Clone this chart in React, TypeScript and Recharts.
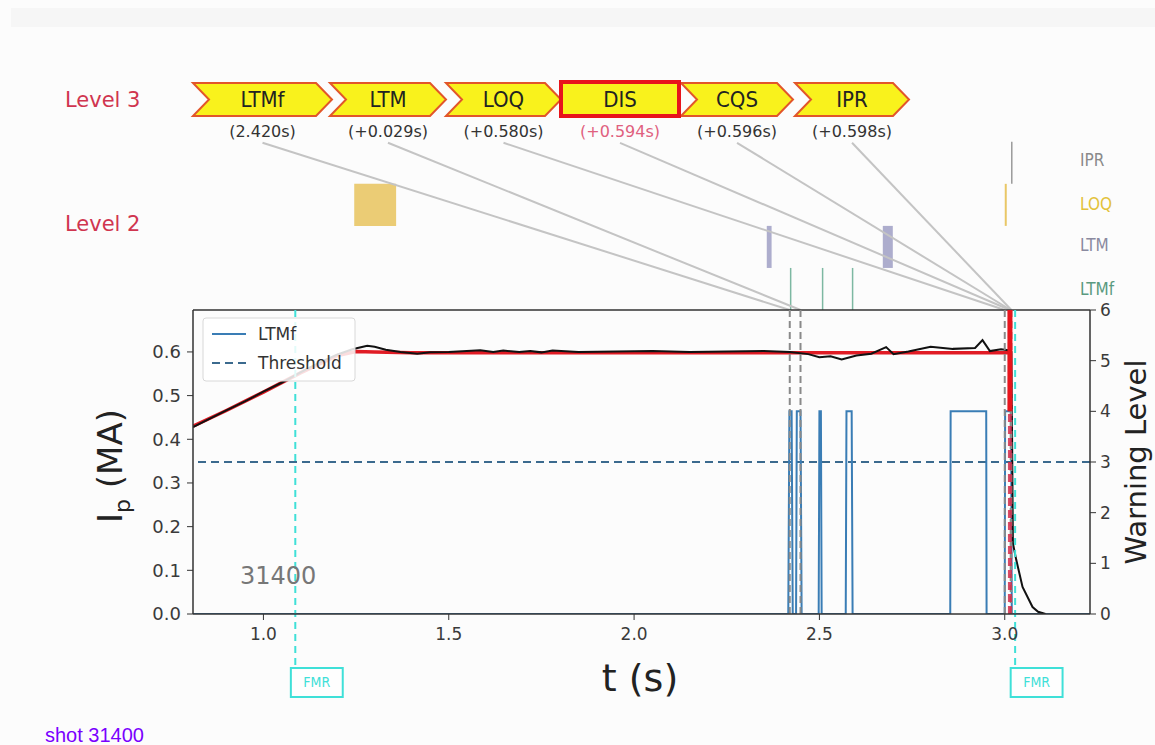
import React from 'react';
import { ComposedChart, Line, XAxis, YAxis, ReferenceLine, ReferenceArea } from 'recharts';

// measured plasma current (MA)
const IP_T = [0.81, 0.85, 0.9, 0.95, 1.0, 1.05, 1.1, 1.15, 1.2, 1.24, 1.26, 1.28, 1.3, 1.33, 1.37, 1.415, 1.45, 1.5, 1.585, 1.62, 1.647, 1.69, 1.72, 1.75, 1.78, 1.85, 1.95, 2.05, 2.15, 2.25, 2.35, 2.42, 2.47, 2.5, 2.53, 2.56, 2.6, 2.64, 2.68, 2.7, 2.74, 2.8, 2.86, 2.92, 2.94, 2.96, 2.99, 3.01, 3.018, 3.022, 3.031, 3.048, 3.075, 3.09, 3.11];
const IP_V = [0.428, 0.445, 0.466, 0.487, 0.509, 0.53, 0.553, 0.575, 0.594, 0.606, 0.61, 0.614, 0.612, 0.605, 0.6, 0.596, 0.599, 0.6, 0.604, 0.6, 0.603, 0.6, 0.602, 0.599, 0.603, 0.6, 0.601, 0.602, 0.6, 0.601, 0.602, 0.6, 0.595, 0.588, 0.59, 0.583, 0.592, 0.596, 0.611, 0.595, 0.601, 0.612, 0.607, 0.609, 0.627, 0.602, 0.606, 0.604, 0.6, 0.162, 0.124, 0.062, 0.016, 0.005, 0];

// reference / fitted current (MA)
const FIT_T = [0.81, 0.9, 1.0, 1.1, 1.2, 1.25, 1.3, 1.4, 1.8, 2.2, 2.6, 3.0, 3.016];
const FIT_V = [0.43, 0.466, 0.508, 0.552, 0.592, 0.601, 0.6, 0.598, 0.598, 0.598, 0.598, 0.598, 0.598];

// LTMf warning level
const WARN_T = [0.81, 2.416, 2.419, 2.425, 2.428, 2.437, 2.439, 2.449, 2.452, 2.498, 2.5, 2.504, 2.506, 2.571, 2.573, 2.587, 2.5895, 2.853, 2.854, 2.95, 2.951, 3.0, 3.001, 3.017, 3.019, 3.23];
const WARN_V = [0, 0, 4, 4, 0, 0, 4, 4, 0, 0, 4, 4, 0, 0, 4, 4, 0, 0, 4, 4, 0, 0, 4, 4, 0, 0];
const THRESHOLD = 3;

const X_TICKS = [1.0, 1.5, 2.0, 2.5, 3.0];
const IP_TICKS = [0, 0.1, 0.2, 0.3, 0.4, 0.5, 0.6];
const WARN_TICKS = [0, 1, 2, 3, 4, 5, 6];

// level 3 sequence
const LEVEL3_NAMES = ['LTMf', 'LTM', 'LOQ', 'DIS', 'CQS', 'IPR'];
const LEVEL3_T = [2.42, 2.449, 3.0, 3.014, 3.016, 3.018];
const LEVEL3_ANCHOR_T = [0.9975, 1.336, 1.6477, 1.962, 2.2777, 2.588];

// level 2 events
const LEVEL2_ROWS = ['LTMf', 'LTM', 'LOQ', 'IPR'];
const LOQ_SPANS = [[1.245, 1.358]];
const LTM_SPANS = [[2.358, 2.371], [2.671, 2.698]];
const LTMF_MARKS = [2.4224, 2.5086, 2.5895];
const LOQ_MARKS = [3.0027];
const IPR_MARKS = [3.019];

const FMR_T = [1.086, 3.028];
const DIS_STEP = [4, 6];

const ipData = IP_T.map((t, i) => ({ t, ip: IP_V[i] }));
const fitData = FIT_T.map((t, i) => ({ t, fit: FIT_V[i] }));
const warnData = WARN_T.map((t, i) => ({ t, w: WARN_V[i] }));

const ROW_H = 0.83;
const rowLo = (name: string) => 6 + LEVEL2_ROWS.indexOf(name) * ROW_H;
const rowHi = (name: string) => rowLo(name) + ROW_H;

const FONT = 'DejaVu Sans, sans-serif';
const COND = 'DejaVu Sans Condensed, DejaVu Sans, sans-serif';
const CYAN = '#3fe0d8';

const chev = (L: number, R: number, d = 16, top = 83, bot = 116) => {
  const mid = (top + bot) / 2;
  return `${L},${top} ${R},${top} ${R + d},${mid} ${R},${bot} ${L},${bot} ${L + d},${mid}`;
};
const ARROWS = [[193, 316], [330, 430], [446, 545], null, [681, 777], [795, 893]];
const LABEL_X = [262.5, 388, 503.5, 620, 737, 852];

export default function App() {
  return (
    <div style={{ position: 'absolute', left: 0, top: 0, width: 1155, height: 745, background: '#fcfcfc', overflow: 'hidden' }}>
      <div style={{ position: 'absolute', left: 11, top: 8, right: 0, height: 19, background: '#f6f6f6' }} />
      <div style={{ position: 'absolute', left: 0, top: 0 }}>
        <ComposedChart width={1155} height={745} margin={{ top: 310, right: 35, bottom: 101, left: 123 }}>
          <XAxis
            dataKey="t"
            type="number"
            domain={[0.81, 3.23]}
            ticks={X_TICKS}
            allowDataOverflow
            height={30}
            tickFormatter={(v: number) => v.toFixed(1)}
            tick={{ fill: '#3a3a3a', fontSize: 17, fontFamily: FONT }}
            tickMargin={8}
            stroke="#333"
            axisLine={{ stroke: '#333', strokeWidth: 1.5 }}
          />
          <YAxis
            yAxisId="ip"
            domain={[0, 0.696]}
            ticks={IP_TICKS}
            allowDataOverflow
            width={70}
            tickFormatter={(v: number) => v.toFixed(1)}
            tick={{ fill: '#3a3a3a', fontSize: 18, fontFamily: FONT }}
            tickMargin={6}
            stroke="#333"
            axisLine={{ stroke: '#333', strokeWidth: 1.5 }}
          />
          <YAxis
            yAxisId="w"
            orientation="right"
            domain={[0, 6]}
            ticks={WARN_TICKS}
            allowDataOverflow
            width={30}
            tick={{ fill: '#3a3a3a', fontSize: 17, fontFamily: FONT }}
            tickMargin={4}
            stroke="#333"
            axisLine={{ stroke: '#333', strokeWidth: 1.5 }}
          />

          {/* level 2 markers above the frame */}
          {LOQ_SPANS.map(([a, b], i) => (
            <ReferenceArea key={'loq' + i} yAxisId="w" x1={a} x2={b} y1={rowLo('LOQ')} y2={rowHi('LOQ')} fill="#e9c766" fillOpacity={0.9} stroke="none" ifOverflow="visible" />
          ))}
          {LTM_SPANS.map(([a, b], i) => (
            <ReferenceArea key={'ltm' + i} yAxisId="w" x1={a} x2={b} y1={rowLo('LTM')} y2={rowHi('LTM')} fill="#a4a4c8" fillOpacity={0.9} stroke="none" ifOverflow="visible" />
          ))}
          {LTMF_MARKS.map((t, i) => (
            <ReferenceLine key={'ltmf' + i} yAxisId="w" segment={[{ x: t, y: rowLo('LTMf') }, { x: t, y: rowHi('LTMf') }]} stroke="#7db8a2" strokeWidth={1.5} ifOverflow="visible" />
          ))}
          {LOQ_MARKS.map((t, i) => (
            <ReferenceLine key={'loqm' + i} yAxisId="w" segment={[{ x: t, y: rowLo('LOQ') }, { x: t, y: rowHi('LOQ') }]} stroke="#e9c766" strokeWidth={2} ifOverflow="visible" />
          ))}
          {IPR_MARKS.map((t, i) => (
            <ReferenceLine key={'iprm' + i} yAxisId="w" segment={[{ x: t, y: rowLo('IPR') }, { x: t, y: rowHi('IPR') }]} stroke="#9a9a9a" strokeWidth={1.5} ifOverflow="visible" />
          ))}

          {/* connectors from level 3 labels */}
          {LEVEL3_T.map((t, i) => (
            <ReferenceLine key={'con' + i} yAxisId="w" segment={[{ x: LEVEL3_ANCHOR_T[i], y: 9.3 }, { x: t, y: 6 }]} stroke="#c4c4c4" strokeWidth={2} ifOverflow="visible" />
          ))}

          {/* frame top */}
          <ReferenceLine yAxisId="w" y={6} stroke="#333" strokeWidth={1.5} ifOverflow="visible" />

          <ReferenceLine yAxisId="w" y={THRESHOLD} stroke="#3b6a8e" strokeWidth={2} strokeDasharray="8 5" />

          <Line yAxisId="w" data={warnData} dataKey="w" type="linear" stroke="#3a7db5" strokeWidth={2} dot={false} isAnimationActive={false} />
          <Line yAxisId="ip" data={fitData} dataKey="fit" type="linear" stroke="#e01b24" strokeWidth={3.5} dot={false} isAnimationActive={false} />
          <Line yAxisId="ip" data={ipData} dataKey="ip" type="linear" stroke="#111" strokeWidth={2} dot={false} isAnimationActive={false} />

          {LEVEL3_T.map((t, i) =>
            LEVEL3_NAMES[i] === 'DIS' ? null : (
              <ReferenceLine key={'ev' + i} yAxisId="w" x={t} stroke="#8a8a8a" strokeWidth={2} strokeDasharray="7 4" />
            )
          )}
          <ReferenceLine yAxisId="w" x={LEVEL3_T[3]} stroke="#d42a4a" strokeOpacity={0.85} strokeWidth={4} strokeDasharray="8 4" />
          <ReferenceLine yAxisId="w" segment={[{ x: LEVEL3_T[3], y: DIS_STEP[0] }, { x: LEVEL3_T[3], y: DIS_STEP[1] }]} stroke="#e8141c" strokeWidth={5} />

          {FMR_T.map((t, i) => (
            <ReferenceLine key={'fmr' + i} yAxisId="w" segment={[{ x: t, y: 6 }, { x: t, y: -1.066 }]} stroke={CYAN} strokeWidth={2} strokeDasharray="7 5" ifOverflow="visible" />
          ))}
          {FMR_T.map((t, i) => (
            <ReferenceArea
              key={'fmrbox' + i}
              yAxisId="w"
              x1={t - 0.012}
              x2={t + 0.128}
              y1={-1.638}
              y2={-1.066}
              fill="#ffffff"
              fillOpacity={0.6}
              stroke={CYAN}
              strokeWidth={2}
              ifOverflow="visible"
              label={{ value: 'FMR', fill: CYAN, fontSize: 14, fontFamily: COND, position: 'center' }}
            />
          ))}
        </ComposedChart>
      </div>

      <svg width={1155} height={745} style={{ position: 'absolute', left: 0, top: 0, pointerEvents: 'none' }}>
        {/* level 3 banner */}
        {ARROWS.map((a, i) =>
          a ? <polygon key={'ar' + i} points={chev(a[0], a[1])} fill="#f9f21c" stroke="#e2562a" strokeWidth={2} /> : null
        )}
        <rect x={561} y={82} width={118} height={34} fill="#f9f21c" stroke="#e8141c" strokeWidth={4} />
        {LEVEL3_NAMES.map((n, i) => (
          <text key={'ln' + i} x={LABEL_X[i]} y={107} textAnchor="middle" fontSize={22} fontFamily={COND} fill="#222">{n}</text>
        ))}
        {LEVEL3_T.map((t, i) => (
          <text key={'lt' + i} x={LABEL_X[i]} y={137} textAnchor="middle" fontSize={16} fontFamily={FONT} fill={i === 3 ? '#e0607e' : '#333'}>
            {i === 0 ? `(${t.toFixed(3)}s)` : `(+${(t - LEVEL3_T[0]).toFixed(3)}s)`}
          </text>
        ))}

        <text x={65} y={107} fontSize={21} fontFamily={FONT} fill="#d0354f">Level 3</text>
        <text x={65} y={231} fontSize={21} fontFamily={FONT} fill="#d0354f">Level 2</text>

        <text x={1080} y={166} fontSize={17} fontFamily={COND} fill="#8a8a8a">IPR</text>
        <text x={1080} y={210} fontSize={17} fontFamily={COND} fill="#e3c23a">LOQ</text>
        <text x={1080} y={251} fontSize={17} fontFamily={COND} fill="#8a8aa0">LTM</text>
        <text x={1080} y={295} fontSize={17} fontFamily={COND} fill="#5a9a80">LTMf</text>

        {/* legend */}
        <rect x={203} y={318} width={152} height={63} rx={3} fill="#ffffff" fillOpacity={0.85} stroke="#d8d8d8" strokeWidth={1} />
        <line x1={212} y1={334} x2={246} y2={334} stroke="#3a7db5" strokeWidth={2} />
        <text x={258} y={340} fontSize={17} fontFamily={FONT} fill="#333">LTMf</text>
        <line x1={212} y1={363} x2={246} y2={363} stroke="#3b6a8e" strokeWidth={2} strokeDasharray="8 5" />
        <text x={258} y={369} fontSize={17} fontFamily={FONT} fill="#333">Threshold</text>

        <text x={240} y={584} fontSize={24} fontFamily={FONT} fill="#777">31400</text>

        {/* axis titles */}
        <text transform="translate(122,466) rotate(-90)" textAnchor="middle" fontSize={34} fontFamily={FONT} fill="#222">
          I<tspan fontSize={22} dy={8}>p</tspan><tspan dy={-8}> (MA)</tspan>
        </text>
        <text x={640} y={691} textAnchor="middle" fontSize={38} fontFamily={FONT} fill="#222">t (s)</text>
        <text transform="translate(1146,462) rotate(-90)" textAnchor="middle" fontSize={29} fontFamily={FONT} fill="#222">Warning Level</text>

        <text x={45} y={742} fontSize={20} fontFamily="Liberation Sans, Arial, sans-serif" fill="#7a00ff">shot 31400</text>
      </svg>
    </div>
  );
}
